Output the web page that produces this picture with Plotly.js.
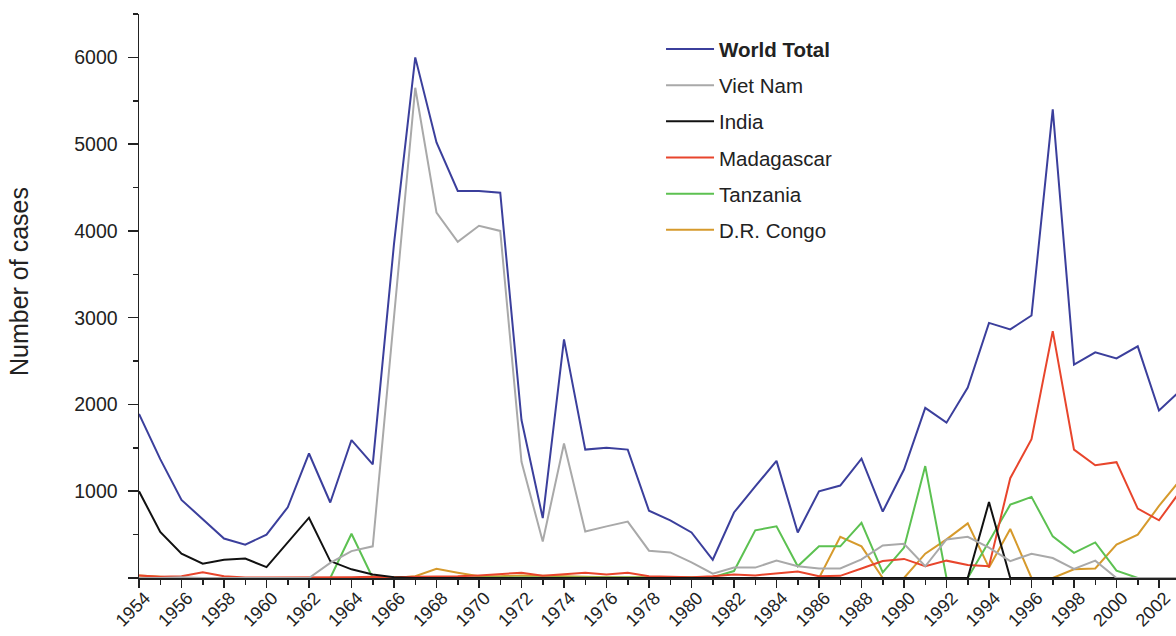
<!DOCTYPE html>
<html>
<head>
<meta charset="utf-8">
<script src="https://cdn.plot.ly/plotly-3.0.1.min.js"></script>
<style>html,body{margin:0;padding:0;background:#fff;}#chart{width:1176px;height:636px;}</style>
</head>
<body>
<div id="chart"></div>
<script>
const years = [1954,1955,1956,1957,1958,1959,1960,1961,1962,1963,1964,1965,1966,1967,1968,1969,1970,1971,1972,1973,1974,1975,1976,1977,1978,1979,1980,1981,1982,1983,1984,1985,1986,1987,1988,1989,1990,1991,1992,1993,1994,1995,1996,1997,1998,1999,2000,2001,2002,2003];

const worldTotal = [1890,1370,900,675,455,385,500,815,1435,870,1590,1310,3850,6000,5020,4460,4460,4440,1820,690,2750,1480,1500,1480,775,665,525,210,755,1055,1350,525,1000,1065,1375,765,1250,1960,1790,2195,2940,2865,3025,5400,2460,2600,2530,2670,1930,2160];

const vietNam = [0,0,10,0,0,0,0,0,0,175,310,365,3000,5650,4210,3875,4060,4000,1340,420,1550,535,595,650,315,295,180,50,120,120,200,135,110,110,215,375,395,135,445,475,350,195,280,230,105,200,0,0,0,0];

const india = [1000,530,280,165,210,225,125,405,695,195,100,40,10,0,0,0,0,0,0,0,0,0,0,0,0,0,0,0,0,0,0,0,0,0,0,0,0,0,0,0,875,0,0,0,0,0,0,0,0,0];

const madagascar = [30,15,20,65,20,5,5,5,5,10,10,15,10,15,15,20,30,45,60,25,40,60,40,60,20,15,10,20,40,30,50,75,20,25,110,195,220,135,200,150,135,1150,1600,2845,1480,1300,1335,800,665,1000];

const tanzania = [0,0,0,0,0,0,0,0,0,0,510,0,5,5,5,5,5,5,10,10,10,10,10,10,10,10,10,10,80,550,595,135,365,365,635,65,350,1290,0,0,420,845,935,480,290,410,85,0,0,0];

const drCongo = [30,15,0,0,0,0,0,0,0,0,0,0,0,20,105,60,20,20,30,25,20,10,10,10,10,10,5,0,0,0,0,0,0,475,365,0,0,280,445,630,120,565,0,0,100,110,385,500,830,1130];

const seriesNames = ['<b>World Total</b>','Viet Nam','India','Madagascar','Tanzania','D.R. Congo'];
const seriesData = [worldTotal, vietNam, india, madagascar, tanzania, drCongo];
const seriesColors = ['#3b3f9c','#a9a9a9','#111111','#e8452c','#5cc151','#d69a2c'];

const yTickVals = [0,1000,2000,3000,4000,5000,6000];
const yTickText = ['','1000','2000','3000','4000','5000','6000'];
const yTitle = 'Number of cases';

const traces = seriesData.map((d, i) => ({
  x: years,
  y: d,
  name: seriesNames[i],
  type: 'scatter',
  mode: 'lines',
  line: {color: seriesColors[i], width: 2},
  legendrank: i + 1,
  legendgroup: 'g' + i
})).reverse();

const font = {family: '"Liberation Sans", Arial, sans-serif', color: '#222'};

const layout = {
  width: 1176,
  height: 636,
  margin: {l: 139, r: 0, t: 14, b: 58},
  paper_bgcolor: '#fff',
  plot_bgcolor: '#fff',
  font: Object.assign({size: 19}, font),
  showlegend: true,
  legend: {
    x: 0.5034, y: 0.973, xanchor: 'left', yanchor: 'top',
    font: Object.assign({size: 20.5}, font),
    tracegroupgap: 6.5,
    itemwidth: 48,
    bgcolor: 'rgba(0,0,0,0)'
  },
  xaxis: {
    range: [1954, 2002.8],
    tickmode: 'linear', tick0: 1954, dtick: 2,
    ticks: 'outside', ticklen: 8, tickwidth: 1.5, tickcolor: '#222',
    minor: {tickmode: 'linear', tick0: 1954, dtick: 1, ticks: 'outside', ticklen: 5, tickwidth: 1.5, tickcolor: '#222'},
    tickangle: -45,
    tickfont: Object.assign({size: 18}, font),
    ticklabelstandoff: -7,
    ticklabelshift: 6,
    showline: true, linecolor: '#222', linewidth: 1.5,
    showgrid: false, zeroline: false,
    fixedrange: true
  },
  yaxis: {
    range: [0, 6500],
    tickmode: 'array', tickvals: yTickVals, ticktext: yTickText,
    ticks: 'outside', ticklen: 10, tickwidth: 1.5, tickcolor: '#222',
    minor: {tickmode: 'linear', tick0: 0, dtick: 500, ticks: 'outside', ticklen: 5, tickwidth: 1.5, tickcolor: '#222'},
    tickfont: Object.assign({size: 19.5}, font),
    ticklabelstandoff: 6,
    showline: true, linecolor: '#222', linewidth: 1.5,
    showgrid: false, zeroline: false,
    fixedrange: true
  },
  annotations: [{
    text: yTitle,
    xref: 'paper', yref: 'paper',
    x: -0.1157, y: 0.5248,
    xanchor: 'center', yanchor: 'middle',
    textangle: -90,
    showarrow: false,
    font: Object.assign({size: 25}, font)
  }]
};

Plotly.newPlot('chart', traces, layout, {displayModeBar: false, staticPlot: true});
</script>
</body>
</html>
